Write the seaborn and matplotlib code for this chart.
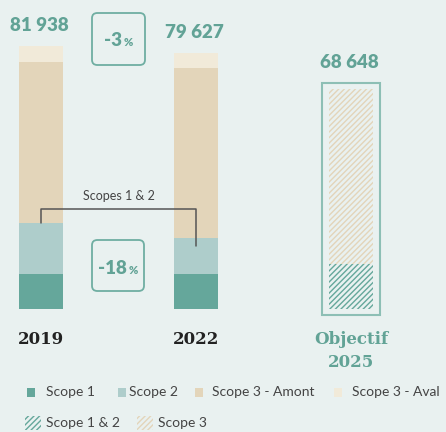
import matplotlib
matplotlib.use("Agg")
import matplotlib.pyplot as plt
from matplotlib.patches import Rectangle, FancyBboxPatch
import seaborn as sns
import pandas as pd
import numpy as np

# ---- data ----
categories = ["2019", "2022", "Objectif\n2025"]
scope1 = [10800, 10700, 0]
scope2 = [15800, 11230, 0]
scope3_amont = [50340, 53010, 0]
scope3_aval = [4998, 4687, 0]
obj_scope12 = [0, 0, 13850]
obj_scope3 = [0, 0, 54798]
totals_labels = ["81 938", "79 627", "68 648"]
pct_labels = ["-3", "-18"]
legend_solid = ["Scope 1", "Scope 2", "Scope 3 - Amont", "Scope 3 - Aval"]
legend_hatch = ["Scope 1 & 2", "Scope 3"]

BG = "#E9F1F0"
C1 = "#65A79B"
C2 = "#AECDCB"
C3A = "#E3D5BA"
C3V = "#F1EAD9"
TEAL = "#62A396"

sns.set_theme(style="white")
plt.rcParams["hatch.linewidth"] = 1.0

W, H = 446, 432
fig = plt.figure(figsize=(W / 100, H / 100), dpi=100, facecolor=BG)
ax = fig.add_axes([0, 0, 1, 1], facecolor=BG)

df = pd.DataFrame({
    "cat": categories,
    "s1": scope1, "s2": scope2, "s3a": scope3_amont, "s3v": scope3_aval,
    "o12": obj_scope12, "o3": obj_scope3,
})
df["c1"] = df["s1"]
df["c2"] = df["c1"] + df["s2"]
df["c3"] = df["c2"] + df["s3a"]
df["c4"] = df["c3"] + df["s3v"]
df["oc1"] = df["o12"]
df["oc2"] = df["o12"] + df["o3"]

bw = 0.284
for col, colr in [("c4", C3V), ("c3", C3A), ("c2", C2), ("c1", C1)]:
    sns.barplot(data=df, x="cat", y=col, color=colr, width=bw, ax=ax,
                saturation=1, linewidth=0, order=categories)

# objective hatched bars
n_before = len(ax.patches)
sns.barplot(data=df, x="cat", y="oc2", width=bw, ax=ax, order=categories,
            saturation=1, linewidth=0, color="none")
for p in ax.patches[n_before:]:
    p.set_facecolor("none"); p.set_edgecolor(C3A); p.set_hatch("//////"); p.set_linewidth(0)
n_before = len(ax.patches)
sns.barplot(data=df, x="cat", y="oc1", width=bw, ax=ax, order=categories,
            saturation=1, linewidth=0, color="none")
for p in ax.patches[n_before:]:
    p.set_facecolor(BG); p.set_edgecolor(C1); p.set_hatch("//////"); p.set_linewidth(0)

# axes geometry: x=0 -> 41px, x=2 -> 351px ; y=0 -> 308.7px from top
pxu = 155.0
ax.set_xlim(-41 / pxu, (W - 41) / pxu)
ypx = 262.7 / 81938
ax.set_ylim(-(H - 308.7) / ypx, 308.7 / ypx)
ax.set_axis_off()

def P(x, y):
    return (x / W, 1 - y / H)

# box around objective bar
ox = 2
pad_x = 6.5 / pxu
pad_y = 6 / ypx
tot_obj = df["oc2"][2]
ax.add_patch(Rectangle((ox - bw / 2 - pad_x, -pad_y), bw + 2 * pad_x, tot_obj + 2 * pad_y,
                       facecolor="none", edgecolor="#8DBFB5", linewidth=1.5))

# totals labels
totals = [df["c4"][0], df["c4"][1], df["oc2"][2]]
for i, (t, lab) in enumerate(zip(totals, totals_labels)):
    extra = 6 / ypx if i == 2 else 0
    ax.text(i - 0.01, t + extra + 12 / ypx, lab, ha="center", va="bottom", color=TEAL,
            fontsize=13.5, fontweight="heavy", family="Lato")

# category labels
for i, c in enumerate(categories):
    ax.text(i, -22 / ypx, c, ha="center", va="top", fontsize=12, fontweight="bold",
            family="DejaVu Serif", color=("#222222" if i < 2 else TEAL), linespacing=1.45)

# pct boxes
for (cx, cy, w, h) in [(118.5, 39, 53, 52), (118, 265.5, 52, 51)]:
    bx, by = P(cx - w / 2, cy + h / 2)
    ax.add_patch(FancyBboxPatch((bx, by), w / W, h / H, transform=ax.transAxes,
                                boxstyle="round,pad=0,rounding_size=0.012",
                                facecolor="none", edgecolor="#6FAEA2", linewidth=1.3))
for lab, xr, yb in [(pct_labels[0], 122, 46.5), (pct_labels[1], 126.5, 273.5)]:
    ax.text(*P(xr, yb), lab, transform=ax.transAxes, ha="right", va="baseline",
            fontsize=13.5, fontweight="heavy", color=TEAL, family="Lato")
    ax.text(*P(xr + 2, yb), "%", transform=ax.transAxes, ha="left", va="baseline",
            fontsize=8, fontweight="heavy", color=TEAL, family="Lato")

# bracket Scopes 1 & 2
yl = df["c2"][0]
yr = df["c2"][1]
ytop = yl + (232.3 - 218.3) / ypx
ax.plot([0, 0, 1, 1], [yl, ytop, ytop, yr - (245.7 - 238) / ypx],
        color="#555555", linewidth=1.1)
ax.text(0.5, ytop + 7 / ypx, "Scopes 1 & 2", ha="center", va="bottom", fontsize=9,
        family="Lato", color="#444444")

# legend row 1
ly = 392.5
for name, colr, sx, tx in zip(legend_solid, [C1, C2, C3A, C3V], [27, 118, 195, 334],
                              [46.5, 129, 211.5, 352.5]):
    x0, y0 = P(sx, ly + 4.5)
    ax.add_patch(Rectangle((x0, y0), 8 / W, 9 / H, transform=ax.transAxes,
                           facecolor=colr, edgecolor="none"))
    ax.text(*P(tx, ly), name, transform=ax.transAxes, ha="left", va="center",
            fontsize=10, family="Lato", color="#444444")
ly2 = 423
for name, colr, sx, tx in zip(legend_hatch, [C1, C3A], [25, 137], [46.5, 158]):
    x0, y0 = P(sx, ly2 + 7)
    ax.add_patch(Rectangle((x0, y0), 16 / W, 14 / H, transform=ax.transAxes,
                           facecolor="none", edgecolor=colr, hatch="//////", linewidth=0))
    ax.text(*P(tx, ly2), name, transform=ax.transAxes, ha="left", va="center",
            fontsize=10, family="Lato", color="#444444")

fig.savefig("out.png", dpi=100, facecolor=BG)
